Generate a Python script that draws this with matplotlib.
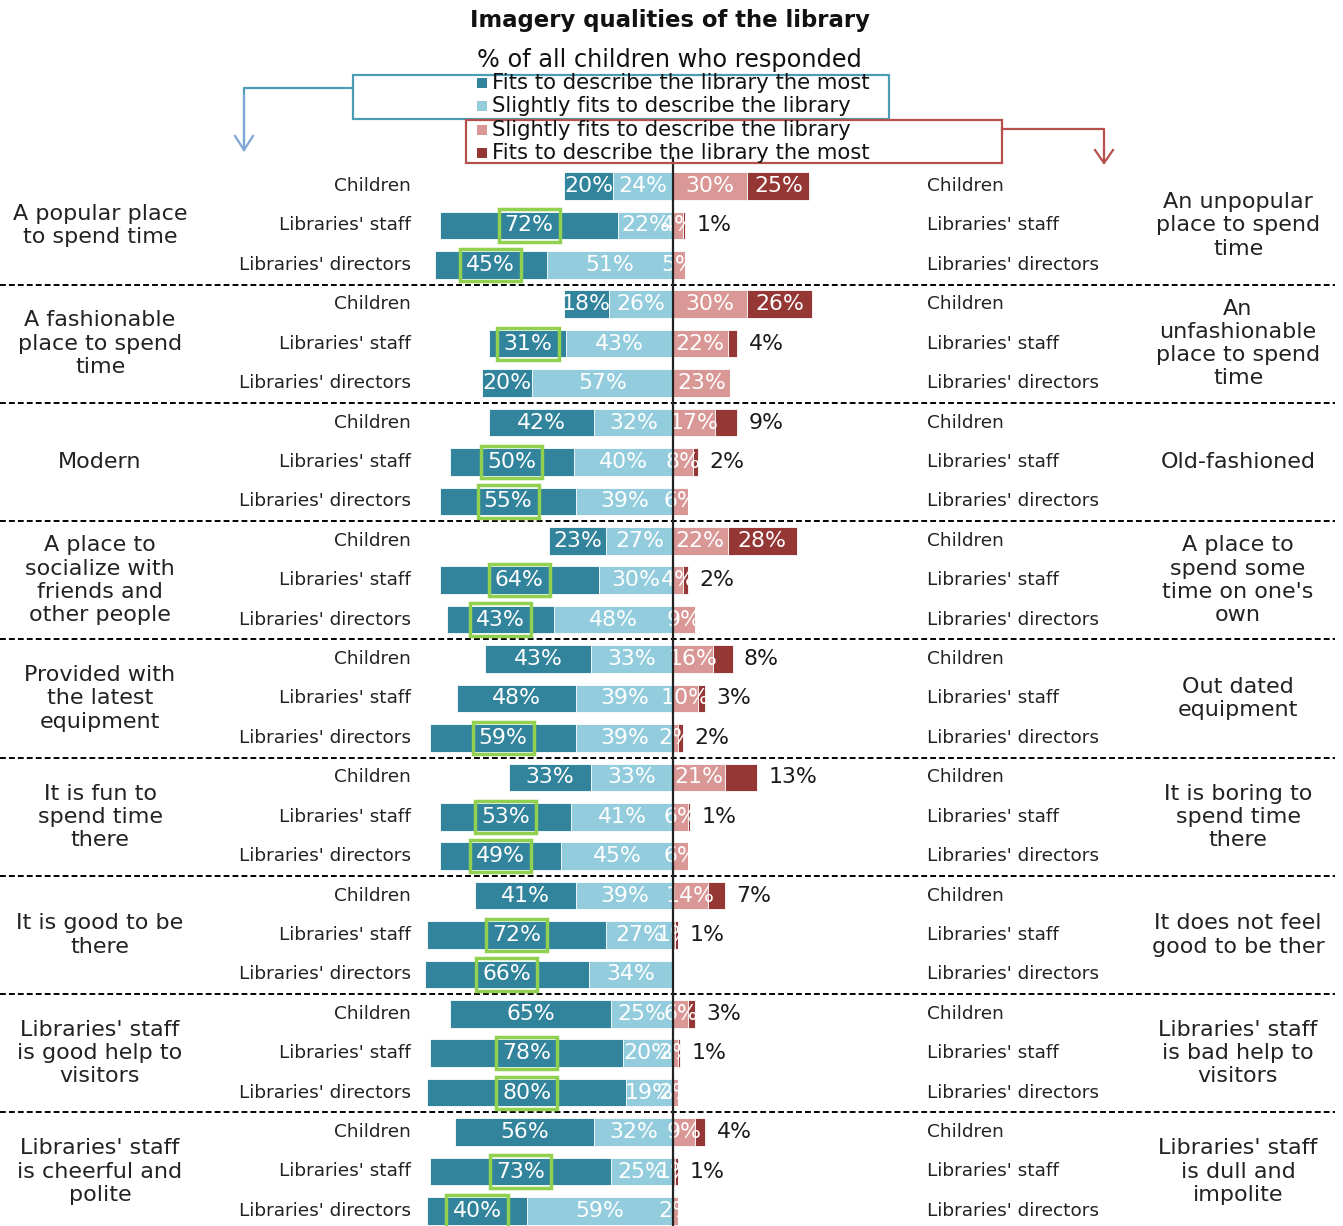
import matplotlib
matplotlib.use("Agg")
import matplotlib.pyplot as plt
from matplotlib import transforms
from matplotlib.patches import Rectangle

plt.rcParams['font.family'] = ['DejaVu Sans']

# ---------------- data ----------------
left_labels = [
    "A popular place\nto spend time",
    "A fashionable\nplace to spend\ntime",
    "Modern",
    "A place to\nsocialize with\nfriends and\nother people",
    "Provided with\nthe latest\nequipment",
    "It is fun to\nspend time\nthere",
    "It is good to be\nthere",
    "Libraries' staff\nis good help to\nvisitors",
    "Libraries' staff\nis cheerful and\npolite",
]
right_labels = [
    "An unpopular\nplace to spend\ntime",
    "An\nunfashionable\nplace to spend\ntime",
    "Old-fashioned",
    "A place to\nspend some\ntime on one's\nown",
    "Out dated\nequipment",
    "It is boring to\nspend time\nthere",
    "It does not feel\ngood to be ther",
    "Libraries' staff\nis bad help to\nvisitors",
    "Libraries' staff\nis dull and\nimpolite",
]
respondents = ["Children", "Libraries' staff", "Libraries' directors"]

pos_most = [[20, 72, 45], [18, 31, 20], [42, 50, 55], [23, 64, 43], [43, 48, 59],
            [33, 53, 49], [41, 72, 66], [65, 78, 80], [56, 73, 40]]
pos_slight = [[24, 22, 51], [26, 43, 57], [32, 40, 39], [27, 30, 48], [33, 39, 39],
              [33, 41, 45], [39, 27, 34], [25, 20, 19], [32, 25, 59]]
neg_slight = [[30, 4, 5], [30, 22, 23], [17, 8, 6], [22, 4, 9], [16, 10, 2],
              [21, 6, 6], [14, 1, 0], [6, 2, 2], [9, 1, 2]]
neg_most = [[25, 1, 0], [26, 4, 0], [9, 2, 0], [28, 2, 0], [8, 3, 2],
            [13, 1, 0], [7, 1, 0], [3, 1, 0], [4, 1, 0]]
highlight = [[0, 1, 1], [0, 1, 0], [0, 1, 1], [0, 1, 1], [0, 0, 1],
             [0, 1, 1], [0, 1, 1], [0, 1, 1], [0, 1, 1]]

legend_labels = ["Fits to describe the library the most",
                 "Slightly fits to describe the library",
                 "Slightly fits to describe the library",
                 "Fits to describe the library the most"]

# ---------------- style ----------------
C_DARK = "#31849B"
C_LIGHT = "#93CDDD"
C_PINK = "#D99795"
C_RED = "#953735"
C_GREEN = "#92D050"
BOX_BLUE = "#4A9DB5"
ARROW_BLUE = "#7FA6D6"
BOX_RED = "#B5504D"

W, H = 1343, 1226
CENTER_PX = 673.0
PX_PER_PCT = 2.48
ROW0_PX = 186.0
ROW_PX = 39.42

fig = plt.figure(figsize=(W / 100, H / 100), dpi=100)
ax = fig.add_axes([0, 0, 1, 1])
ax.set_xlim((0 - CENTER_PX) / PX_PER_PCT, (W - CENTER_PX) / PX_PER_PCT)
ax.set_ylim((H - ROW0_PX) / ROW_PX, (0 - ROW0_PX) / ROW_PX)
ax.axis('off')

deco = fig.add_axes([0, 0, 1, 1], zorder=3)
deco.set_xlim(0, W)
deco.set_ylim(H, 0)
deco.axis('off')
deco.patch.set_alpha(0)

mix = transforms.blended_transform_factory(deco.transData, ax.transData)

bar_h = 0.70
n_groups = len(left_labels)
for g in range(n_groups):
    for k in range(3):
        i = 3 * g + k
        pm, ps = pos_most[g][k], pos_slight[g][k]
        ns, nm = neg_slight[g][k], neg_most[g][k]
        ax.barh(i, -ps, left=0, height=bar_h, color=C_LIGHT, edgecolor='white', linewidth=0.6, zorder=2)
        ax.barh(i, -pm, left=-ps, height=bar_h, color=C_DARK, edgecolor='white', linewidth=0.6, zorder=2)
        ax.barh(i, ns, left=0, height=bar_h, color=C_PINK, edgecolor='white', linewidth=0.6, zorder=2)
        ax.barh(i, nm, left=ns, height=bar_h, color=C_RED, edgecolor='white', linewidth=0.6, zorder=2)

        fs = 15.8
        kw = dict(ha='center', va='center', color='white', fontsize=fs, zorder=4)
        t = ax.text(-ps - pm / 2, i, f"{pm}%", **kw)
        if highlight[g][k]:
            t.set_bbox(dict(boxstyle='square,pad=0.28', facecolor='none',
                            edgecolor=C_GREEN, linewidth=2.5))
        if ps:
            ax.text(-ps / 2, i, f"{ps}%", **kw)
        if ns:
            ax.text(ns / 2, i, f"{ns}%", **kw)
        if nm:
            if nm >= 14:
                ax.text(ns + nm / 2, i, f"{nm}%", **kw)
            else:
                ax.text(ns + nm + 4.5, i, f"{nm}%", ha='left', va='center',
                        color='#1a1a1a', fontsize=fs, zorder=4)

        deco.text(411, i, respondents[k], transform=mix, ha='right', va='center',
                  fontsize=13.3, color='#222222')
        deco.text(927, i, respondents[k], transform=mix, ha='left', va='center',
                  fontsize=13.3, color='#222222')

    mid = 3 * g + 1
    deco.text(100, mid, left_labels[g], transform=mix, ha='center', va='center',
              fontsize=16, color='#222222', linespacing=1.2, multialignment='center')
    deco.text(1238, mid, right_labels[g], transform=mix, ha='center', va='center',
              fontsize=16, color='#222222', linespacing=1.2, multialignment='center')
    if g < n_groups - 1:
        ax.plot([ax.get_xlim()[0], ax.get_xlim()[1] - 8 / PX_PER_PCT], [3 * g + 2.5] * 2,
                color='black', linewidth=1.4, linestyle=(0, (3, 1.6)), zorder=1)

# center line
ax.plot([0, 0], [(158 - ROW0_PX) / ROW_PX, ax.get_ylim()[0]], color='#222222',
        linewidth=1.6, zorder=5)

# title & subtitle
deco.text(670, 21, "Imagery qualities of the library", ha='center', va='center',
          fontsize=16.4, fontweight='bold', color='#111111')
deco.text(669, 60, "% of all children who responded", ha='center', va='center',
          fontsize=17.3, color='#111111')

# legend boxes
deco.add_patch(Rectangle((353, 75), 536, 44, fill=False, edgecolor=BOX_BLUE, linewidth=1.6, zorder=2))
deco.add_patch(Rectangle((466, 120), 536, 43, fill=False, edgecolor=BOX_RED, linewidth=1.6, zorder=2))
leg_colors = [C_DARK, C_LIGHT, C_PINK, C_RED]
leg_y = [83, 106, 130, 153]
for c, y, lab in zip(leg_colors, leg_y, legend_labels):
    deco.add_patch(Rectangle((477, y - 5), 10, 10, facecolor=c, edgecolor='none', zorder=3))
    deco.text(492, y, lab, ha='left', va='center', fontsize=15.2, color='#111111', zorder=4)

# connector arrows
deco.plot([353, 244, 244], [88, 88, 150], color=BOX_BLUE, linewidth=1.6)
deco.plot([244, 244], [95, 150], color=ARROW_BLUE, linewidth=1.6)
deco.plot([235, 244, 253], [136, 150, 136], color=ARROW_BLUE, linewidth=1.6)
deco.plot([1002, 1104, 1104], [129, 129, 163], color=BOX_RED, linewidth=1.6)
deco.plot([1095, 1104, 1113], [150, 163, 150], color=BOX_RED, linewidth=1.6)

fig.savefig("out.png", dpi=100, facecolor='white')
